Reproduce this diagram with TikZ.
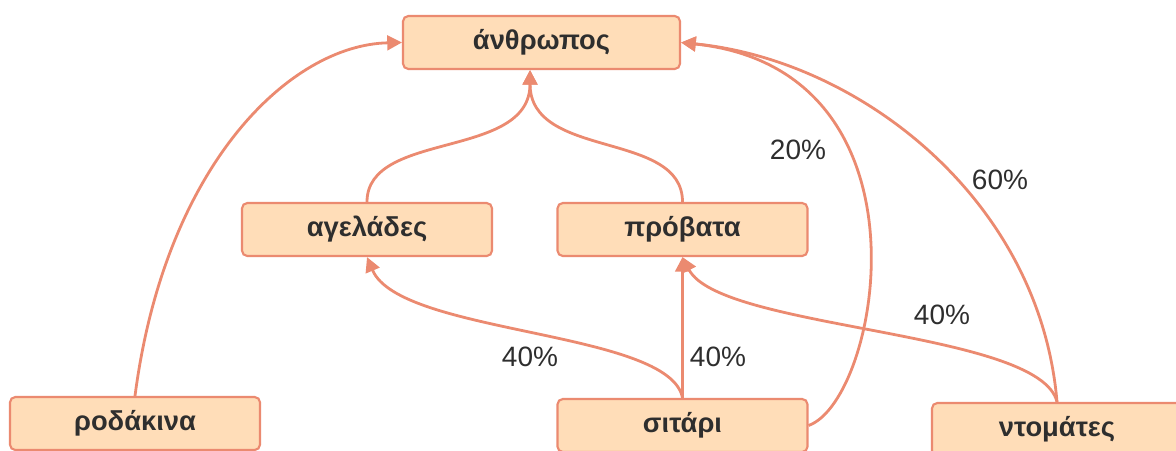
\documentclass[tikz,border=0pt]{standalone}
\usepackage{fontspec}
\setmainfont{Liberation Sans}
\usetikzlibrary{arrows.meta}
\definecolor{boxfill}{HTML}{FFDDB8}
\definecolor{salmon}{HTML}{EB8A70}
\definecolor{ink}{HTML}{2E2E2E}

\begin{document}
\begin{tikzpicture}[x=0.75pt, y=-0.75pt,
        box/.style={draw=salmon, fill=boxfill, line width=1.6pt, rounded corners=4pt,
            minimum width=187.5pt, minimum height=39.75pt, inner sep=0pt,
            text=ink, font=\fontsize{20.5}{24}\selectfont\bfseries},
        flow/.style={draw=salmon, line width=2.1pt, -{Triangle[length=11pt,width=11pt]}},
        pct/.style={text=ink, font=\fontsize{21}{25}\selectfont}]
        \useasboundingbox (0,0) rectangle (1176,450);

        % Boxes
        \node [box, minimum width=207.75pt] (anth) at (541.5, 42.5) {άνθρωπος};
        \node [box] (cows) at (367, 229.5) {αγελάδες};
        \node [box] (sheep) at (682.5, 229.5) {πρόβατα};
        \node [box] (peach) at (135, 423.5) {ροδάκινα};
        \node [box] (wheat) at (682.5, 425.5) {σιτάρι};
        \node [box] (tomato) at (1057, 429.5) {ντομάτες};

        % Into the human
        \draw [flow] (peach.north) .. controls (165, 165) and (290, 45) .. (anth.west);
        \draw [flow] (cows.north) .. controls (367, 130) and (530, 160) .. ([xshift=-8.6pt]anth.south);
        \draw [flow] (sheep.north) .. controls (682.5, 130) and (530, 160) .. ([xshift=-8.6pt]anth.south);
        \draw [flow] (wheat.east) .. controls (880, 400) and (940, 70) .. (anth.east);
        \draw [flow] (tomato.north) .. controls (1040, 200) and (860, 60) .. (anth.east);

        % Into the animals
        \draw [flow] (wheat.north) .. controls (670, 330) and (400, 335) .. (cows.south);
        \draw [flow] (wheat.north) -- (sheep.south);
        \draw [flow] (tomato.north) .. controls (1040, 330) and (720, 330) .. (sheep.south);

        % Shares
        \node [pct] (pcows) at (530, 357) {40\%};
        \node [pct] (psheep) at (718, 357) {40\%};
        \node [pct] (pwheat) at (798, 150) {20\%};
        \node [pct] (ptomanth) at (1000, 180) {60\%};
        \node [pct] (ptomsheep) at (942, 315) {40\%};
    \end{tikzpicture}
\end{document}
